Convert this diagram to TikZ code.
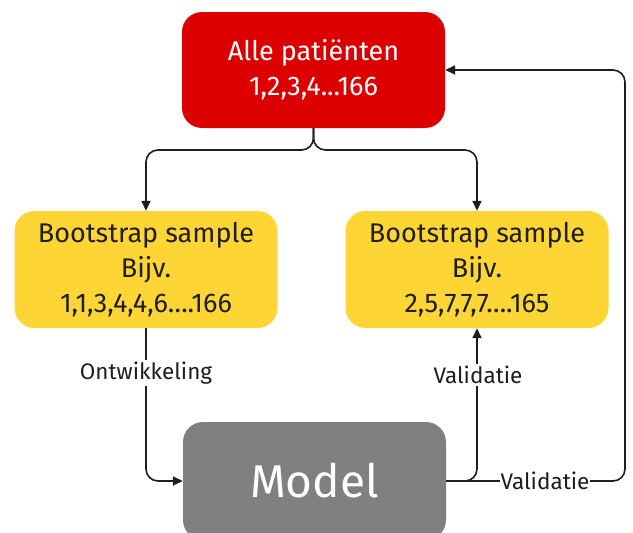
\documentclass[tikz,border=0pt]{standalone}
\usepackage{fontspec}
\setmainfont{Fira Sans}
\usetikzlibrary{arrows.meta}
\definecolor{redbox}{HTML}{DC0000}
\definecolor{yellowbox}{HTML}{FDD535}
\definecolor{graybox}{HTML}{808080}
\definecolor{linec}{HTML}{1E1E1E}
\tikzset{
  box/.style={rounded corners=20pt, minimum width=263pt, align=center, inner sep=0pt, font=\fontsize{27}{35}\selectfont},
  redn/.style={box, fill=redbox, text=white, minimum height=116pt},
  yelln/.style={box, fill=yellowbox, text=linec, minimum height=117pt},
  grayn/.style={box, fill=graybox, text=white, minimum height=118pt, font=\fontsize{46}{52}\selectfont},
  conn/.style={draw=linec, line width=1.6pt, rounded corners=12pt, -{Triangle[length=10pt,width=9pt]}},
  lbl/.style={fill=white, inner sep=2pt, text=linec, font=\fontsize{22.5}{24}\selectfont}
}
\begin{document}
\begin{tikzpicture}[x=1pt,y=-1pt]
\clip (0,0) rectangle (633,533);
\fill[white] (0,0) rectangle (633,533);
\node[redn] (all) at (313.5,70) {Alle patiënten\\1,2,3,4...166};
\node[yelln] (bl) at (146,269.5) {Bootstrap sample\\Bijv.\\1,1,3,4,4,6….166};
\node[yelln] (br) at (477,269.5) {Bootstrap sample\\Bijv.\\2,5,7,7,7….165};
\node[grayn] (model) at (314.5,481) {Model};
\coordinate (split) at (313.5,150);
\coordinate (farright) at (625,481);
\draw[conn] (all.south) -- (split) -| (bl.north);
\draw[conn] (all.south) -- (split) -| (br.north);
\draw[conn] (bl.south) |- (model.west);
\draw[conn] (model.east) -| (br.south);
\draw[conn] (model.east) -- (farright) |- (all.east);
\node[lbl] (l1) at (146,373) {Ontwikkeling};
\node[lbl] (l2) at (478,375) {Validatie};
\node[lbl, inner sep=1pt] (l3) at (545,481) {Validatie};
\end{tikzpicture}
\end{document}
